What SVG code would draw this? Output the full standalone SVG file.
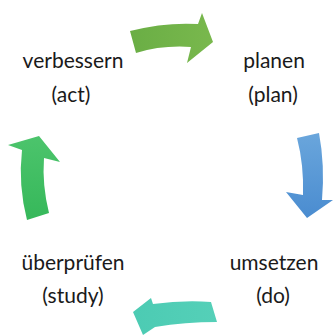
<svg xmlns="http://www.w3.org/2000/svg" width="334" height="336" viewBox="0 0 334 336">
<style>
text{font-family:Lato,"Liberation Sans",sans-serif;font-size:21px;fill:#1a1a1a;text-anchor:middle}
</style>
<defs>
<linearGradient id="gTop" x1="0" y1="0" x2="1" y2="0"><stop offset="0" stop-color="#6aae45"/><stop offset="1" stop-color="#79b84d"/></linearGradient>
<linearGradient id="gRight" x1="0" y1="0" x2="0" y2="1"><stop offset="0" stop-color="#6aa6dc"/><stop offset="1" stop-color="#4a8cd0"/></linearGradient>
<linearGradient id="gBottom" x1="1" y1="0" x2="0" y2="0"><stop offset="0" stop-color="#55d0b8"/><stop offset="1" stop-color="#4ccbb3"/></linearGradient>
<linearGradient id="gLeft" x1="0" y1="1" x2="0" y2="0"><stop offset="0" stop-color="#36b85a"/><stop offset="1" stop-color="#4cc46c"/></linearGradient>
</defs>
<g id="connectors">
<path d="M130,31 Q165,22 198,24 L202,13 L213,42 L187,63 L191,47 Q162,45 136,53 Z" fill="url(#gTop)"/>
<path d="M297,138 L319,133 Q325,165 322,200 L333,200 L307,218 L286,192 L303,195 Q304,165 297,138 Z" fill="url(#gRight)"/>
<path d="M211,302 Q183,300 153,304 L151,298 L133,312 L143,335 L155,327 Q185,322 217,322 Z" fill="url(#gBottom)"/>
<path d="M27,220 L49,213 Q42,185 44,158 L60,162 L39,136 L8,145 L22,150 Q18,185 27,220 Z" fill="url(#gLeft)"/>
</g>
<g id="act"><text x="73" y="68">verbessern</text><text x="71" y="102">(act)</text></g>
<g id="plan"><text x="274" y="68">planen</text><text x="273" y="102">(plan)</text></g>
<g id="do"><text x="274" y="270">umsetzen</text><text x="273" y="303">(do)</text></g>
<g id="study"><text x="73" y="270">überprüfen</text><text x="73" y="303">(study)</text></g>
</svg>
